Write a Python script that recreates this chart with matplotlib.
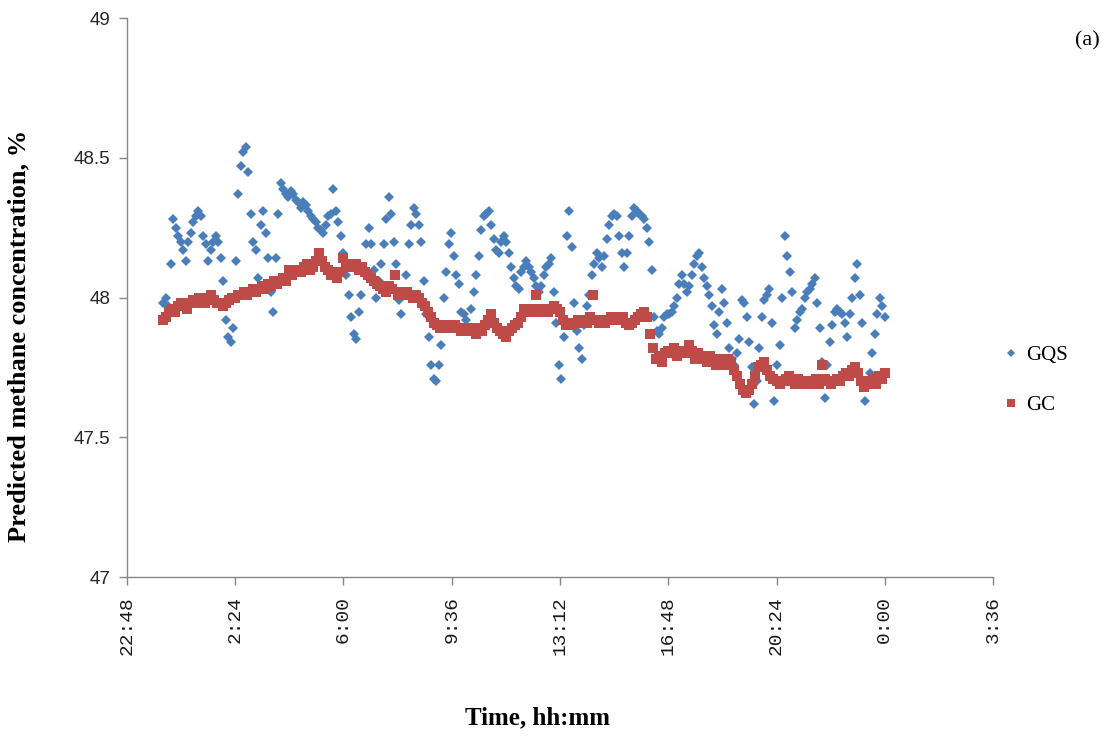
import numpy as np
import matplotlib.pyplot as plt

# GQS readings every 5 minutes, GC readings every 6 minutes (hours from midnight)
gqs_hours = np.arange(0, 289) / 12.0
gc_hours = np.arange(0, 241) / 10.0

gqs = [
    47.98, 48.00, 47.97, 48.12, 48.28, 48.25, 48.22, 48.20, 48.17, 48.13, 48.20, 48.23,
    48.27, 48.29, 48.31, 48.29, 48.22, 48.19, 48.13, 48.17, 48.20, 48.22, 48.20, 48.14,
    48.06, 47.92, 47.86, 47.84, 47.89, 48.13, 48.37, 48.47, 48.52, 48.54, 48.45, 48.30,
    48.20, 48.17, 48.07, 48.26, 48.31, 48.23, 48.14, 48.02, 47.95, 48.14, 48.30, 48.41,
    48.39, 48.37, 48.36, 48.38, 48.37, 48.35, 48.34, 48.32, 48.34, 48.33, 48.31, 48.29,
    48.28, 48.27, 48.25, 48.24, 48.23, 48.26, 48.29, 48.30, 48.39, 48.31, 48.27, 48.22,
    48.16, 48.08, 48.01, 47.93, 47.87, 47.85, 47.95, 48.01, 48.10, 48.19, 48.25, 48.19,
    48.10, 48.00, 48.06, 48.12, 48.19, 48.28, 48.36, 48.30, 48.20, 48.12, 47.99, 47.94,
    48.01, 48.08, 48.19, 48.26, 48.32, 48.30, 48.26, 48.20, 48.06, 47.94, 47.86, 47.76,
    47.71, 47.70, 47.76, 47.83, 48.00, 48.09, 48.19, 48.23, 48.15, 48.08, 48.05, 47.95,
    47.94, 47.92, 47.89, 47.96, 48.02, 48.08, 48.15, 48.24, 48.29, 48.30, 48.31, 48.26,
    48.21, 48.17, 48.16, 48.20, 48.22, 48.20, 48.16, 48.11, 48.07, 48.04, 48.03, 48.09,
    48.11, 48.13, 48.11, 48.09, 48.07, 48.04, 48.02, 48.04, 48.08, 48.11, 48.12, 48.14,
    48.02, 47.91, 47.76, 47.71, 47.86, 48.22, 48.31, 48.18, 47.98, 47.88, 47.82, 47.78,
    47.90, 47.97, 48.01, 48.08, 48.12, 48.16, 48.14, 48.11, 48.15, 48.21, 48.26, 48.29,
    48.30, 48.29, 48.22, 48.16, 48.11, 48.16, 48.22, 48.29, 48.32, 48.31, 48.30, 48.29,
    48.28, 48.25, 48.20, 48.10, 47.93, 47.88, 47.87, 47.89, 47.93, 47.94, 47.94, 47.95,
    47.97, 48.00, 48.05, 48.08, 48.05, 48.02, 48.04, 48.08, 48.12, 48.15, 48.16, 48.11,
    48.07, 48.04, 48.01, 47.97, 47.90, 47.87, 47.95, 48.03, 47.98, 47.91, 47.82, 47.78,
    47.76, 47.80, 47.85, 47.99, 47.98, 47.93, 47.84, 47.75, 47.62, 47.70, 47.82, 47.93,
    47.99, 48.01, 48.03, 47.91, 47.63, 47.76, 47.83, 48.00, 48.22, 48.15, 48.09, 48.02,
    47.89, 47.92, 47.95, 47.96, 48.00, 48.02, 48.03, 48.05, 48.07, 47.98, 47.89, 47.77,
    47.64, 47.76, 47.84, 47.90, 47.95, 47.96, 47.95, 47.94, 47.91, 47.86, 47.94, 48.00,
    48.07, 48.12, 48.01, 47.91, 47.63, 47.68, 47.73, 47.80, 47.87, 47.94, 48.00, 47.97,
    47.93,
]

gc = [
    47.92, 47.93, 47.95, 47.96, 47.95, 47.97, 47.98, 47.97, 47.96, 47.98,
    47.99, 47.98, 48.00, 47.99, 47.98, 48.00, 48.01, 47.99, 47.98, 47.98,
    47.97, 47.98, 47.99, 48.00, 48.00, 48.01, 48.01, 48.02, 48.01, 48.02,
    48.03, 48.02, 48.03, 48.04, 48.03, 48.05, 48.04, 48.06, 48.05, 48.06,
    48.07, 48.06, 48.10, 48.08, 48.09, 48.10, 48.09, 48.11, 48.12, 48.10,
    48.11, 48.13, 48.16, 48.13, 48.11, 48.10, 48.08, 48.09, 48.07, 48.09,
    48.14, 48.11, 48.12, 48.11, 48.12, 48.10, 48.11, 48.09, 48.08, 48.07,
    48.06, 48.05, 48.04, 48.03, 48.02, 48.04, 48.03, 48.08, 48.01, 48.02,
    48.01, 48.02, 48.01, 48.00, 48.01, 48.00, 47.98, 47.97, 47.95, 47.93,
    47.91, 47.90, 47.89, 47.90, 47.89, 47.90, 47.89, 47.90, 47.89, 47.88,
    47.89, 47.88, 47.89, 47.88, 47.87, 47.89, 47.88, 47.90, 47.92, 47.94,
    47.91, 47.89, 47.88, 47.87, 47.86, 47.88, 47.89, 47.90, 47.91, 47.93,
    47.96, 47.95, 47.96, 47.95, 48.01, 47.96, 47.95, 47.96, 47.95, 47.96,
    47.97, 47.96, 47.95, 47.92, 47.90, 47.91, 47.90, 47.91, 47.92, 47.91,
    47.92, 47.91, 47.93, 48.01, 47.92, 47.91, 47.92, 47.91, 47.92, 47.93,
    47.92, 47.93, 47.92, 47.93, 47.91, 47.90, 47.91, 47.92, 47.93, 47.94,
    47.95, 47.93, 47.87, 47.82, 47.78, 47.79, 47.77, 47.80, 47.81, 47.80,
    47.82, 47.79, 47.80, 47.81, 47.80, 47.83, 47.81, 47.78, 47.80, 47.79,
    47.78, 47.77, 47.79, 47.78, 47.76, 47.77, 47.78, 47.76, 47.78, 47.77,
    47.74, 47.72, 47.69, 47.67, 47.66, 47.67, 47.69, 47.72, 47.75, 47.76,
    47.77, 47.74, 47.72, 47.71, 47.70, 47.69, 47.70, 47.71, 47.72, 47.70,
    47.69, 47.71, 47.70, 47.69, 47.70, 47.69, 47.70, 47.71, 47.69, 47.76,
    47.71, 47.70, 47.69, 47.70, 47.71, 47.70, 47.72, 47.73, 47.72, 47.74,
    47.75, 47.73, 47.70, 47.68, 47.69, 47.70, 47.71, 47.69, 47.72, 47.71,
    47.73,
]

tick_hours = [-1.2, 2.4, 6.0, 9.6, 13.2, 16.8, 20.4, 24.0, 27.6]
tick_labels = ["22:48", "2:24", "6:00", "9:36", "13:12", "16:48", "20:24", "0:00", "3:36"]
y_ticks = [47, 47.5, 48, 48.5, 49]
y_labels = ["47", "47.5", "48", "48.5", "49"]

blue = "#4a7ebb"
red = "#be4b48"
axis_grey = "#868686"

fig = plt.figure(figsize=(11.1, 7.36), dpi=100)
ax = fig.add_axes([0.1144, 0.216, 0.7802, 0.7595])

ax.plot(gqs_hours, gqs, linestyle="none", marker="D", markersize=5.5,
        color=blue, markeredgewidth=0, label="GQS", zorder=2)
ax.plot(gc_hours, gc, linestyle="none", marker="s", markersize=7.3,
        color=red, markeredgewidth=0, label="GC", zorder=3)

ax.set_xlim(-1.2, 27.6)
ax.set_ylim(47, 49)
ax.set_xticks(tick_hours)
ax.set_xticklabels(tick_labels, rotation=90, family="Liberation Mono",
                   fontsize=14, color="#1a1a1a")
ax.set_yticks(y_ticks)
ax.set_yticklabels(y_labels, family="Liberation Sans", fontsize=13.5,
                   color="#262626")

for side in ("top", "right"):
    ax.spines[side].set_visible(False)
for side in ("left", "bottom"):
    ax.spines[side].set_color(axis_grey)
    ax.spines[side].set_linewidth(1.0)
ax.tick_params(axis="both", direction="out", length=6, width=1,
               color=axis_grey)
ax.tick_params(axis="x", pad=8)
ax.tick_params(axis="y", pad=6)

ax.set_ylabel("Predicted methane concentration, %", family="Liberation Serif",
              fontweight="bold", fontsize=19, va="center")
ax.yaxis.set_label_coords(-0.1247, 0.431)
ax.set_xlabel("Time, hh:mm", family="Liberation Serif", fontweight="bold",
              fontsize=18, va="center")
ax.xaxis.set_label_coords(0.4746, -0.252)

fig.text(0.9905, 0.945, "(a)", family="Liberation Serif", fontsize=16,
         ha="right", va="center")

leg = ax.legend(loc="center left", bbox_to_anchor=(0.99, 0.352),
                frameon=False, prop={"family": "Liberation Serif", "size": 15},
                handlelength=0.8, handletextpad=0.3, labelspacing=1.45,
                markerscale=0.8)

fig.savefig("out.png", dpi=100)
